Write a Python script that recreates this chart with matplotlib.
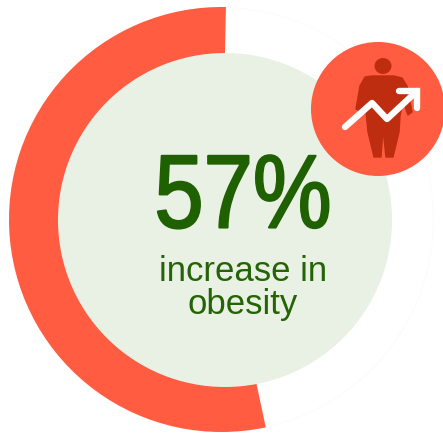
import numpy as np
import matplotlib
matplotlib.use("Agg")
import matplotlib.pyplot as plt
from matplotlib.patches import Circle, Wedge, Ellipse, Polygon
from matplotlib.patheffects import AbstractPathEffect
from matplotlib.transforms import Affine2D

plt.rcParams['font.family'] = ['Liberation Sans', 'DejaVu Sans']

increase_pct = 57
dial_full_scale = 106.2
big_label = "57%"
caption_lines = ["increase in", "obesity"]

# silhouette and arrow outlines for the badge
body_x = [365, 372, 394, 402, 407, 412, 408, 403, 400, 399, 393, 386, 383, 381, 374, 368, 366, 360, 356, 360]
body_y = [78, 77, 77, 79, 87, 113, 116, 102, 117, 133, 158, 158, 130, 158, 158, 133, 113, 112, 110, 87]
arrow_x = [345, 372, 387, 417]
arrow_y = [128, 104, 120, 92]
head_x = [399, 417, 417]
head_y = [92, 92, 109]


class Condense(AbstractPathEffect):
    # squeezes glyphs horizontally around a pixel column and thickens them a little
    def __init__(self, cx, factor, stroke):
        super().__init__()
        self.cx = cx
        self.factor = factor
        self.stroke = stroke

    def draw_path(self, renderer, gc, tpath, affine, rgbFace=None):
        squeeze = Affine2D().translate(-self.cx, 0).scale(self.factor, 1).translate(self.cx, 0)
        gc0 = renderer.new_gc()
        gc0.copy_properties(gc)
        gc0.set_linewidth(self.stroke)
        gc0.set_foreground(rgbFace)
        renderer.draw_path(gc0, tpath, affine + squeeze, rgbFace)
        gc0.restore()


fig = plt.figure(figsize=(4.43, 4.35), dpi=100)
ax = fig.add_axes([0, 0, 1, 1])
ax.set_xlim(0, 443)
ax.set_ylim(435, 0)
ax.axis('off')

# y axis is flipped: angle 271.2 is just right of the top, the sweep runs down the left side
sweep = increase_pct / dial_full_scale * 360
ax.add_patch(Circle((221.5, 220.5), 212, fill=False, ec='#fcfcfc', lw=1))
ax.add_patch(Wedge((221.5, 220.5), 212.5, 271.2 - sweep, 271.2, fc='#FF5C41', ec='none'))

ax.add_patch(Circle((225, 221), 167, fc='#E9F0E4', ec='none'))

ax.add_patch(Circle((378, 110), 67, fc='#FF5C41', ec='none'))
ax.add_patch(Ellipse((383, 67), 17, 16, fc='#BE2D10', ec='none'))
ax.add_patch(Polygon(np.column_stack([body_x, body_y]), closed=True, fc='#BE2D10', ec='#BE2D10', lw=1, joinstyle='round'))
ax.plot(arrow_x, arrow_y, color='white', lw=4.6, solid_capstyle='round', solid_joinstyle='round')
ax.plot(head_x, head_y, color='white', lw=4.6, solid_capstyle='round', solid_joinstyle='miter')

ax.text(243, 228.5, big_label, color='#1F6000', fontsize=75, ha='center', va='baseline',
        path_effects=[Condense(243, 0.85, 1.5)])
ax.text(243, 281, caption_lines[0], color='#246405', fontsize=25, ha='center', va='baseline')
ax.text(243, 314.5, caption_lines[1], color='#246405', fontsize=25, ha='center', va='baseline')

fig.savefig('out.png', dpi=100)
